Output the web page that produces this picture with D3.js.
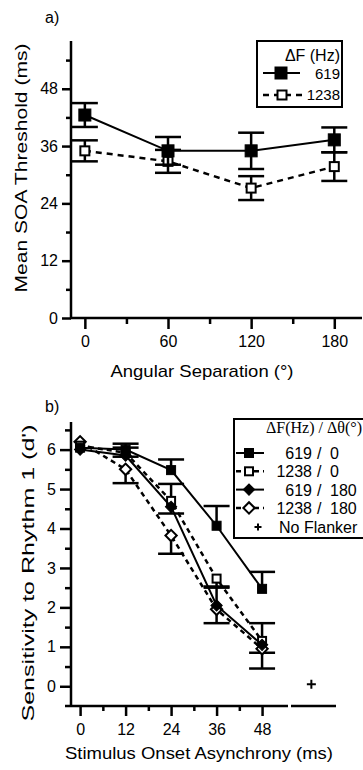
<!DOCTYPE html>
<html>
<head>
<meta charset="utf-8">
<script src="https://cdn.jsdelivr.net/npm/d3@7"></script>
<style>
  body { margin: 0; background: #fff; }
  svg text { font-family: "Liberation Sans", Arial, sans-serif; fill: #000; }
</style>
</head>
<body>
<svg id="chart"></svg>
<script>
// panel a: threshold vs angular separation
const anglesA = [0, 60, 120, 180];
const thr619 = [42.5, 35.0, 35.0, 37.3];
const thr619Err = [2.5, 2.9, 3.8, 2.6];
const thr1238 = [35.0, 32.8, 27.2, 31.7];
const thr1238Err = [2.2, 2.4, 2.5, 3.0];
const ticksA_y = [0, 12, 24, 36, 48];
const ticksA_x = [0, 60, 120, 180];

// panel b: sensitivity vs SOA
const soaB = [0, 12, 24, 36, 48];
const d619_0 = [6.05, 6.0, 5.48, 4.07, 2.47];
const d619_0Err = [0, 0.15, 0.27, 0.5, 0.43];       // upward bars
const d1238_0 = [6.1, 5.92, 4.7, 2.73, 1.15];
const d1238_0Err = [0, 0.1, 0.32, 0.2, 0.3];        // downward bars
const d619_180 = [6.0, 5.85, 4.55, 2.05, 1.05];
const d619_180Err = [0, 0.2, 0.58, 0.45, 0.55];     // upward bars
const d1238_180 = [6.2, 5.5, 3.82, 1.95, 0.95];
const d1238_180Err = [0, 0.35, 0.46, 0.35, 0.5];    // downward bars
const noFlanker = { soa: 61, d: 0.05 };
const ticksB_y = [0, 1, 2, 3, 4, 5, 6];
const ticksB_x = [0, 12, 24, 36, 48];

const W = 363, H = 770;
const svg = d3.select('#chart').attr('width', W).attr('height', H);

function drawMarker(g, shape, filled, x, y, size) {
    let m;
    if (shape === 'plus') {
        m = g.append('path')
            .attr('d', `M${-size / 2},0H${size / 2}M0,${-size / 2}V${size / 2}`)
            .attr('stroke', '#000').attr('stroke-width', 2).attr('fill', 'none');
    } else {
        m = g.append('rect')
            .attr('x', -size / 2).attr('y', -size / 2)
            .attr('width', size).attr('height', size)
            .attr('fill', filled ? '#000' : '#fff')
            .attr('stroke', '#000')
            .attr('stroke-width', filled ? 1 : 2);
    }
    let tr = `translate(${x},${y})`;
    if (shape === 'diamond') tr += ' rotate(45)';
    m.attr('transform', tr);
}

function errorBars(g, xs, ys, errs, dir, xscale, yscale, cap) {
    xs.forEach((x, i) => {
        if (!errs[i]) return;
        const cx = xscale(x);
        const lo = dir === 'up' ? ys[i] : ys[i] - errs[i];
        const hi = dir === 'down' ? ys[i] : ys[i] + errs[i];
        g.append('line')
            .attr('x1', cx).attr('x2', cx)
            .attr('y1', yscale(lo)).attr('y2', yscale(hi))
            .attr('stroke', '#000').attr('stroke-width', 2.5);
        if (dir !== 'down') {
            g.append('line').attr('x1', cx - cap / 2).attr('x2', cx + cap / 2)
                .attr('y1', yscale(hi)).attr('y2', yscale(hi))
                .attr('stroke', '#000').attr('stroke-width', 2.5);
        }
        if (dir !== 'up') {
            g.append('line').attr('x1', cx - cap / 2).attr('x2', cx + cap / 2)
                .attr('y1', yscale(lo)).attr('y2', yscale(lo))
                .attr('stroke', '#000').attr('stroke-width', 2.5);
        }
    });
}

function styleAxis(g) {
    g.selectAll('.tick line').attr('stroke', '#000').attr('stroke-width', 2.5);
    g.selectAll('.domain').remove();
    g.selectAll('.tick text').style('font-size', '16px')
        .style('font-family', '"Liberation Sans", Arial, sans-serif').attr('fill', '#000');
}

// axis title, stretched to the length it has in the figure
function title(x, y, rot, len, txt) {
    svg.append('text')
        .attr('transform', `translate(${x},${y})` + (rot ? ' rotate(-90)' : ''))
        .attr('text-anchor', 'middle')
        .attr('textLength', len).attr('lengthAdjust', 'spacingAndGlyphs')
        .style('font-size', '17px').text(txt);
}

// ---------------- panel a ----------------
{
    const xscale = d3.scaleLinear().domain([-10, 200]).range([71, 362]);
    const yscale = d3.scaleLinear().domain([0, 58]).range([318, 41]);
    const g = svg.append('g');

    // minor ticks
    g.append('g').attr('transform', 'translate(71,0)')
        .call(d3.axisLeft(yscale).tickValues([6, 18, 30, 42, 54]).tickSize(5).tickFormat(''))
        .call(styleAxis);
    g.append('g').attr('transform', 'translate(0,318)')
        .call(d3.axisBottom(xscale).tickValues([30, 90, 150]).tickSize(6).tickFormat(''))
        .call(styleAxis);
    // major ticks
    g.append('g').attr('transform', 'translate(71,0)')
        .call(d3.axisLeft(yscale).tickValues(ticksA_y).tickSize(9).tickPadding(4))
        .call(styleAxis);
    g.append('g').attr('transform', 'translate(0,318)')
        .call(d3.axisBottom(xscale).tickValues(ticksA_x).tickSize(11).tickPadding(7))
        .call(styleAxis);
    // axis lines
    g.append('line').attr('x1', 71).attr('x2', 71).attr('y1', 41).attr('y2', 319)
        .attr('stroke', '#000').attr('stroke-width', 2.5);
    g.append('line').attr('x1', 70).attr('x2', 362).attr('y1', 318).attr('y2', 318)
        .attr('stroke', '#000').attr('stroke-width', 2.5);

    const line = d3.line().x(d => xscale(d[0])).y(d => yscale(d[1]));
    errorBars(g, anglesA, thr1238, thr1238Err, 'both', xscale, yscale, 26);
    g.append('path').datum(anglesA.map((a, i) => [a, thr1238[i]]))
        .attr('d', line).attr('fill', 'none').attr('stroke', '#000')
        .attr('stroke-width', 2.5).attr('stroke-dasharray', '6,5');
    anglesA.forEach((a, i) => drawMarker(g, 'square', false, xscale(a), yscale(thr1238[i]), 9));

    errorBars(g, anglesA, thr619, thr619Err, 'both', xscale, yscale, 26);
    g.append('path').datum(anglesA.map((a, i) => [a, thr619[i]]))
        .attr('d', line).attr('fill', 'none').attr('stroke', '#000').attr('stroke-width', 2);
    anglesA.forEach((a, i) => drawMarker(g, 'square', true, xscale(a), yscale(thr619[i]), 12));

    // legend
    const lg = g.append('g');
    lg.append('rect').attr('x', 257).attr('y', 41).attr('width', 85).attr('height', 66)
        .attr('fill', '#fff').attr('stroke', '#000').attr('stroke-width', 2);
    lg.append('text').attr('x', 340).attr('y', 61).attr('text-anchor', 'end')
        .style('font-size', '16px').text('ΔF (Hz)');
    lg.append('line').attr('x1', 263).attr('x2', 300).attr('y1', 73).attr('y2', 73)
        .attr('stroke', '#000').attr('stroke-width', 2);
    drawMarker(lg, 'square', true, 281, 73, 12);
    lg.append('text').attr('x', 340).attr('y', 79).attr('text-anchor', 'end')
        .style('font-size', '15px').text('619');
    lg.append('line').attr('x1', 263).attr('x2', 302).attr('y1', 95).attr('y2', 95)
        .attr('stroke', '#000').attr('stroke-width', 2.5).attr('stroke-dasharray', '6,5');
    drawMarker(lg, 'square', false, 282, 95, 9);
    lg.append('text').attr('x', 340).attr('y', 100).attr('text-anchor', 'end')
        .style('font-size', '15px').text('1238');

    svg.append('text').attr('x', 45).attr('y', 23).style('font-size', '16px').text('a)');
    title(27, 168, true, 249, 'Mean SOA Threshold (ms)');
    title(202, 377, false, 183, 'Angular Separation (°)');
}

// ---------------- panel b ----------------
{
    const xscale = d3.scaleLinear().domain([-2.4, 67.5]).range([71, 336]);
    const yscale = d3.scaleLinear().domain([-0.5, 6.7]).range([706, 422]);
    const g = svg.append('g');

    g.append('g').attr('transform', 'translate(71,0)')
        .call(d3.axisLeft(yscale).tickValues([0.5, 1.5, 2.5, 3.5, 4.5, 5.5, 6.5]).tickSize(6).tickFormat(''))
        .call(styleAxis);
    g.append('g').attr('transform', 'translate(0,706)')
        .call(d3.axisBottom(xscale).tickValues([6, 18, 30, 42]).tickSize(5).tickFormat(''))
        .call(styleAxis);
    g.append('g').attr('transform', 'translate(71,0)')
        .call(d3.axisLeft(yscale).tickValues(ticksB_y).tickSize(11).tickPadding(4))
        .call(styleAxis);
    g.append('g').attr('transform', 'translate(0,706)')
        .call(d3.axisBottom(xscale).tickValues(ticksB_x).tickSize(10).tickPadding(8))
        .call(styleAxis);
    g.append('line').attr('x1', 71).attr('x2', 71).attr('y1', 422).attr('y2', 707)
        .attr('stroke', '#000').attr('stroke-width', 2.5);
    // x axis with a small break
    g.append('line').attr('x1', 65).attr('x2', 288).attr('y1', 706).attr('y2', 706)
        .attr('stroke', '#000').attr('stroke-width', 2.5);
    g.append('line').attr('x1', 291).attr('x2', 336).attr('y1', 706).attr('y2', 706)
        .attr('stroke', '#000').attr('stroke-width', 2.5);

    const line = d3.line().x(d => xscale(d[0])).y(d => yscale(d[1]));
    const series = [
        { vals: d1238_180, err: d1238_180Err, dir: 'down', dash: true, shape: 'diamond', filled: false, size: 8 },
        { vals: d1238_0, err: d1238_0Err, dir: 'down', dash: true, shape: 'square', filled: false, size: 8 },
        { vals: d619_180, err: d619_180Err, dir: 'up', dash: false, shape: 'diamond', filled: true, size: 8 },
        { vals: d619_0, err: d619_0Err, dir: 'up', dash: false, shape: 'square', filled: true, size: 9 }
    ];
    series.forEach(s => {
        errorBars(g, soaB, s.vals, s.err, s.dir, xscale, yscale, 26);
    });
    series.forEach(s => {
        g.append('path').datum(soaB.map((t, i) => [t, s.vals[i]]))
            .attr('d', line).attr('fill', 'none').attr('stroke', '#000')
            .attr('stroke-width', s.dash ? 2.5 : 2)
            .attr('stroke-dasharray', s.dash ? '5,4' : null);
        soaB.forEach((t, i) => drawMarker(g, s.shape, s.filled, xscale(t), yscale(s.vals[i]), s.size));
    });
    drawMarker(g, 'plus', true, xscale(noFlanker.soa), yscale(noFlanker.d), 9);

    // legend
    const lg = g.append('g');
    lg.append('rect').attr('x', 234).attr('y', 419).attr('width', 140).attr('height', 119)
        .attr('fill', '#fff').attr('stroke', '#000').attr('stroke-width', 2);
    lg.append('text').attr('x', 266).attr('y', 433)
        .style('font-family', '"Liberation Serif", "Times New Roman", serif')
        .style('font-size', '16px').text('ΔF(Hz) / Δθ(°)');
    const rows = [
        { f: '619', a: '0', dash: false, shape: 'square', filled: true, size: 9 },
        { f: '1238', a: '0', dash: true, shape: 'square', filled: false, size: 8 },
        { f: '619', a: '180', dash: false, shape: 'diamond', filled: true, size: 8 },
        { f: '1238', a: '180', dash: true, shape: 'diamond', filled: false, size: 8 }
    ];
    rows.forEach((r, i) => {
        const y = 453 + i * 18.3;
        lg.append('line').attr('x1', 236).attr('x2', 264).attr('y1', y).attr('y2', y)
            .attr('stroke', '#000').attr('stroke-width', r.dash ? 2.5 : 2)
            .attr('stroke-dasharray', r.dash ? '5,4' : null);
        drawMarker(lg, r.shape, r.filled, 249, y, r.size);
        lg.append('text').attr('x', 312).attr('y', y + 6).attr('text-anchor', 'end')
            .style('font-size', '16px').text(r.f);
        lg.append('text').attr('x', 317).attr('y', y + 6)
            .style('font-size', '16px').text('/');
        lg.append('text').attr('x', 330).attr('y', y + 6)
            .style('font-size', '16px').text(r.a);
    });
    drawMarker(lg, 'plus', true, 258, 527, 7);
    lg.append('text').attr('x', 279).attr('y', 533).style('font-size', '16px').text('No Flanker');

    svg.append('text').attr('x', 45).attr('y', 412).style('font-size', '16px').text('b)');
    title(34, 573, true, 297, 'Sensitivity to Rhythm 1 (d\')');
    title(199, 759, false, 268, 'Stimulus Onset Asynchrony (ms)');
}
</script>
</body>
</html>
